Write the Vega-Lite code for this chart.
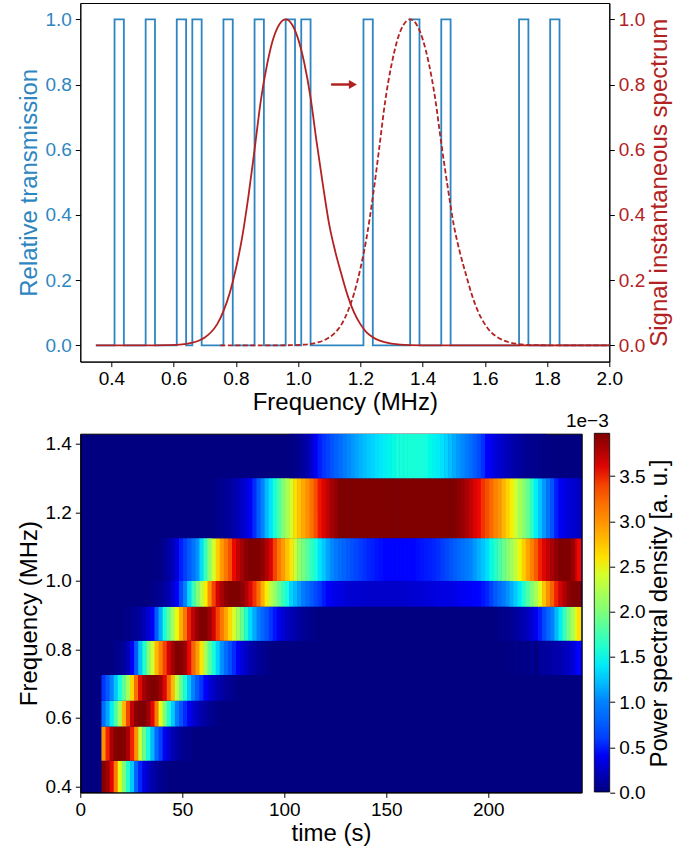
{"$schema":"https://vega.github.io/schema/vega-lite/v6.json","padding":{"left":16.3,"top":2,"right":5,"bottom":5},"background":"white","bounds":"flush","spacing":71.7,"config":{"font":"Liberation Sans","axis":{"labelFont":"Liberation Sans","titleFont":"Liberation Sans","labelFontSize":19,"titleFontSize":24,"titleFontWeight":"normal","grid":false,"tickColor":"#000","domainColor":"#000","tickSize":5,"labelColor":"#000","titleColor":"#000","labelPadding":4,"labelFlush":false},"view":{"stroke":"#000"}},"datasets":{"bands":[{"b":0,"f":0.3825,"f2":0.475},{"b":1,"f":0.475,"f2":0.575},{"b":2,"f":0.575,"f2":0.65},{"b":3,"f":0.65,"f2":0.725},{"b":4,"f":0.725,"f2":0.825},{"b":5,"f":0.825,"f2":0.925},{"b":6,"f":0.925,"f2":1.0},{"b":7,"f":1.0,"f2":1.125},{"b":8,"f":1.125,"f2":1.3},{"b":9,"f":1.3,"f2":1.43}]},"vconcat":[{"width":529,"height":358.6,"resolve":{"scale":{"y":"independent"},"axis":{"y":"independent"}},"layer":[{"data":{"values":[{"f":0.35,"v":0},{"f":0.41,"v":0},{"f":0.41,"v":1},{"f":0.44,"v":1},{"f":0.44,"v":0},{"f":0.51,"v":0},{"f":0.51,"v":1},{"f":0.54,"v":1},{"f":0.54,"v":0},{"f":0.61,"v":0},{"f":0.61,"v":1},{"f":0.64,"v":1},{"f":0.64,"v":0},{"f":0.66,"v":0},{"f":0.66,"v":1},{"f":0.69,"v":1},{"f":0.69,"v":0},{"f":0.76,"v":0},{"f":0.76,"v":1},{"f":0.79,"v":1},{"f":0.79,"v":0},{"f":0.86,"v":0},{"f":0.86,"v":1},{"f":0.89,"v":1},{"f":0.89,"v":0},{"f":0.96,"v":0},{"f":0.96,"v":1},{"f":0.99,"v":1},{"f":0.99,"v":0},{"f":1.01,"v":0},{"f":1.01,"v":1},{"f":1.04,"v":1},{"f":1.04,"v":0},{"f":1.21,"v":0},{"f":1.21,"v":1},{"f":1.24,"v":1},{"f":1.24,"v":0},{"f":1.36,"v":0},{"f":1.36,"v":1},{"f":1.39,"v":1},{"f":1.39,"v":0},{"f":1.46,"v":0},{"f":1.46,"v":1},{"f":1.49,"v":1},{"f":1.49,"v":0},{"f":1.71,"v":0},{"f":1.71,"v":1},{"f":1.74,"v":1},{"f":1.74,"v":0},{"f":1.81,"v":0},{"f":1.81,"v":1},{"f":1.84,"v":1},{"f":1.84,"v":0},{"f":2.0,"v":0}]},"mark":{"type":"line","color":"#2e86c1","strokeWidth":1.8,"strokeJoin":"miter"},"encoding":{"x":{"field":"f","type":"quantitative","scale":{"domain":[0.3,2.0],"nice":false,"zero":false},"axis":{"title":"Frequency (MHz)","values":[0.4,0.6,0.8,1.0,1.2,1.4,1.6,1.8,2.0],"format":".1f","labelPadding":3,"titlePadding":2}},"y":{"field":"v","type":"quantitative","scale":{"domain":[-0.05,1.05],"nice":false,"zero":false},"axis":{"orient":"left","title":"Relative transmission","values":[0,0.2,0.4,0.6,0.8,1.0],"format":".1f","labelColor":"#2e86c1","titleColor":"#2e86c1","titlePadding":3.6}}}},{"data":{"values":[{"f":0.75,"v":0},{"f":0.94,"v":0},{"f":0.98,"v":0.0005},{"f":1.02,"v":0.002},{"f":1.06,"v":0.008},{"f":1.08,"v":0.014},{"f":1.10,"v":0.024},{"f":1.12,"v":0.04},{"f":1.14,"v":0.065},{"f":1.16,"v":0.105},{"f":1.18,"v":0.16},{"f":1.20,"v":0.235},{"f":1.22,"v":0.33},{"f":1.24,"v":0.455},{"f":1.26,"v":0.60},{"f":1.28,"v":0.75},{"f":1.30,"v":0.86},{"f":1.32,"v":0.94},{"f":1.34,"v":0.985},{"f":1.36,"v":1},{"f":1.38,"v":0.985},{"f":1.40,"v":0.94},{"f":1.42,"v":0.865},{"f":1.44,"v":0.76},{"f":1.46,"v":0.62},{"f":1.48,"v":0.49},{"f":1.50,"v":0.37},{"f":1.52,"v":0.285},{"f":1.54,"v":0.215},{"f":1.56,"v":0.15},{"f":1.58,"v":0.10},{"f":1.60,"v":0.065},{"f":1.62,"v":0.04},{"f":1.64,"v":0.025},{"f":1.66,"v":0.015},{"f":1.70,"v":0.005},{"f":1.76,"v":0.0005},{"f":1.82,"v":0},{"f":2.0,"v":0}]},"mark":{"type":"line","color":"#b22222","strokeWidth":1.8,"strokeDash":[5,2.5],"interpolate":"monotone"},"encoding":{"x":{"field":"f","type":"quantitative"},"y":{"field":"v","type":"quantitative","scale":{"domain":[-0.05,1.05],"nice":false,"zero":false},"axis":null}}},{"data":{"values":[{"f":0.35,"v":0},{"f":0.54,"v":0},{"f":0.58,"v":0.0005},{"f":0.62,"v":0.002},{"f":0.66,"v":0.008},{"f":0.68,"v":0.014},{"f":0.70,"v":0.024},{"f":0.72,"v":0.04},{"f":0.74,"v":0.065},{"f":0.76,"v":0.105},{"f":0.78,"v":0.16},{"f":0.80,"v":0.235},{"f":0.82,"v":0.33},{"f":0.84,"v":0.455},{"f":0.86,"v":0.60},{"f":0.88,"v":0.75},{"f":0.90,"v":0.86},{"f":0.92,"v":0.94},{"f":0.94,"v":0.985},{"f":0.96,"v":1},{"f":0.98,"v":0.985},{"f":1.0,"v":0.94},{"f":1.02,"v":0.865},{"f":1.04,"v":0.76},{"f":1.06,"v":0.62},{"f":1.08,"v":0.49},{"f":1.10,"v":0.37},{"f":1.12,"v":0.285},{"f":1.14,"v":0.215},{"f":1.16,"v":0.15},{"f":1.18,"v":0.10},{"f":1.20,"v":0.065},{"f":1.22,"v":0.04},{"f":1.24,"v":0.025},{"f":1.26,"v":0.015},{"f":1.30,"v":0.005},{"f":1.36,"v":0.0005},{"f":1.42,"v":0},{"f":2.0,"v":0}]},"mark":{"type":"line","color":"#b22222","strokeWidth":1.8,"interpolate":"monotone"},"encoding":{"x":{"field":"f","type":"quantitative"},"y":{"field":"v","type":"quantitative","scale":{"domain":[-0.05,1.05],"nice":false,"zero":false},"axis":{"orient":"right","title":"Signal instantaneous spectrum","values":[0,0.2,0.4,0.6,0.8,1.0],"format":".1f","labelColor":"#b22222","titleColor":"#b22222","titleAngle":270,"titleBaseline":"top","titlePadding":2.6}}}},{"data":{"values":[{"f":1.106,"v":0.8},{"f":1.176,"v":0.8}]},"mark":{"type":"line","color":"#b22222","strokeWidth":2.5},"encoding":{"x":{"field":"f","type":"quantitative"},"y":{"field":"v","type":"quantitative","scale":{"domain":[-0.05,1.05],"nice":false,"zero":false},"axis":null}}},{"data":{"values":[{"f":1.176,"v":0.8}]},"mark":{"type":"point","shape":"triangle-right","filled":true,"opacity":1,"color":"#b22222","size":85},"encoding":{"x":{"field":"f","type":"quantitative"},"y":{"field":"v","type":"quantitative","scale":{"domain":[-0.05,1.05],"nice":false,"zero":false},"axis":null}}}]},{"width":501.4,"height":358.7,"view":{"fill":"#000080","stroke":"#000"},"title":{"text":"1e−3","anchor":"end","frame":"group","fontSize":19,"font":"Liberation Sans","fontWeight":"normal","color":"#000","dx":27,"offset":2},"resolve":{"scale":{"y":"independent"},"axis":{"y":"independent"}},"layer":[{"data":{"values":[
{"b":0,"t":11.5,"p":3.96},{"b":0,"t":13.5,"p":3.84},{"b":0,"t":15.5,"p":3.58},{"b":0,"t":17.5,"p":3.12},{"b":0,"t":19.5,"p":2.48},{"b":0,"t":21.5,"p":2.0},{"b":0,"t":23.5,"p":1.6},{"b":0,"t":25.5,"p":1.27},{"b":0,"t":27.5,"p":0.8},{"b":0,"t":29.5,"p":0.5},{"b":0,"t":31.5,"p":0.35},{"b":0,"t":33.5,"p":0.24},{"b":0,"t":35.5,"p":0.16},{"b":0,"t":37.5,"p":0.1},{"b":0,"t":39.5,"p":0.06},{"b":0,"t":41.5,"p":0.03},
{"b":1,"t":11.5,"p":3.0},{"b":1,"t":13.5,"p":3.5},{"b":1,"t":15.5,"p":3.8},{"b":1,"t":17.5,"p":3.95},{"b":1,"t":19.5,"p":4.0},{"b":1,"t":21.5,"p":3.95},{"b":1,"t":23.5,"p":3.8},{"b":1,"t":25.5,"p":3.5},{"b":1,"t":27.5,"p":3.0},{"b":1,"t":29.5,"p":2.35},{"b":1,"t":31.5,"p":1.9},{"b":1,"t":33.5,"p":1.5},{"b":1,"t":35.5,"p":1.2},{"b":1,"t":37.5,"p":0.85},{"b":1,"t":39.5,"p":0.6},{"b":1,"t":41.5,"p":0.4},{"b":1,"t":43.5,"p":0.27},{"b":1,"t":45.5,"p":0.18},{"b":1,"t":47.5,"p":0.12},{"b":1,"t":49.5,"p":0.08},{"b":1,"t":51.5,"p":0.05},{"b":1,"t":53.5,"p":0.03},
{"b":2,"t":11.5,"p":0.85},{"b":2,"t":13.5,"p":1.12},{"b":2,"t":15.5,"p":1.42},{"b":2,"t":17.5,"p":1.8},{"b":2,"t":19.5,"p":2.2},{"b":2,"t":21.5,"p":2.8},{"b":2,"t":23.5,"p":3.38},{"b":2,"t":25.5,"p":3.72},{"b":2,"t":27.5,"p":3.92},{"b":2,"t":29.5,"p":4},{"b":2,"t":31.5,"p":3.97},{"b":2,"t":33.5,"p":3.84},{"b":2,"t":35.5,"p":3.58},{"b":2,"t":37.5,"p":3.12},{"b":2,"t":39.5,"p":2.48},{"b":2,"t":41.5,"p":2.0},{"b":2,"t":43.5,"p":1.6},{"b":2,"t":45.5,"p":1.27},{"b":2,"t":47.5,"p":0.97},{"b":2,"t":49.5,"p":0.7},{"b":2,"t":51.5,"p":0.52},{"b":2,"t":53.5,"p":0.4},{"b":2,"t":55.5,"p":0.3},{"b":2,"t":57.5,"p":0.22},{"b":2,"t":59.5,"p":0.16},{"b":2,"t":61.5,"p":0.11},{"b":2,"t":63.5,"p":0.07},{"b":2,"t":65.5,"p":0.04},{"b":2,"t":67.5,"p":0.02},
{"b":3,"t":11.5,"p":0.55},{"b":3,"t":13.5,"p":0.74},{"b":3,"t":15.5,"p":1.0},{"b":3,"t":17.5,"p":1.25},{"b":3,"t":19.5,"p":1.5},{"b":3,"t":21.5,"p":1.85},{"b":3,"t":23.5,"p":2.2},{"b":3,"t":25.5,"p":2.65},{"b":3,"t":27.5,"p":3.2},{"b":3,"t":29.5,"p":3.58},{"b":3,"t":31.5,"p":3.82},{"b":3,"t":33.5,"p":3.93},{"b":3,"t":35.5,"p":4},{"b":3,"t":37.5,"p":3.95},{"b":3,"t":39.5,"p":3.85},{"b":3,"t":41.5,"p":3.6},{"b":3,"t":43.5,"p":3.25},{"b":3,"t":45.5,"p":2.8},{"b":3,"t":47.5,"p":2.3},{"b":3,"t":49.5,"p":1.9},{"b":3,"t":51.5,"p":1.55},{"b":3,"t":53.5,"p":1.25},{"b":3,"t":55.5,"p":1.0},{"b":3,"t":57.5,"p":0.75},{"b":3,"t":59.5,"p":0.55},{"b":3,"t":61.5,"p":0.42},{"b":3,"t":63.5,"p":0.32},{"b":3,"t":65.5,"p":0.24},{"b":3,"t":67.5,"p":0.18},{"b":3,"t":69.5,"p":0.13},{"b":3,"t":71.5,"p":0.09},{"b":3,"t":73.5,"p":0.06},{"b":3,"t":75.5,"p":0.04},{"b":3,"t":77.5,"p":0.02},
{"b":4,"t":15.5,"p":0.02},{"b":4,"t":17.5,"p":0.03},{"b":4,"t":19.5,"p":0.06},{"b":4,"t":21.5,"p":0.1},{"b":4,"t":23.5,"p":0.2},{"b":4,"t":25.5,"p":0.4},{"b":4,"t":27.5,"p":0.75},{"b":4,"t":29.5,"p":1.25},{"b":4,"t":31.5,"p":1.6},{"b":4,"t":33.5,"p":2.0},{"b":4,"t":35.5,"p":2.4},{"b":4,"t":37.5,"p":2.8},{"b":4,"t":39.5,"p":3.1},{"b":4,"t":41.5,"p":3.4},{"b":4,"t":43.5,"p":3.65},{"b":4,"t":45.5,"p":3.85},{"b":4,"t":47.5,"p":4},{"b":4,"t":49.5,"p":3.95},{"b":4,"t":51.5,"p":3.85},{"b":4,"t":53.5,"p":3.55},{"b":4,"t":55.5,"p":3.25},{"b":4,"t":57.5,"p":2.95},{"b":4,"t":59.5,"p":2.58},{"b":4,"t":61.5,"p":2.2},{"b":4,"t":63.5,"p":1.85},{"b":4,"t":65.5,"p":1.55},{"b":4,"t":67.5,"p":1.3},{"b":4,"t":69.5,"p":1.05},{"b":4,"t":71.5,"p":0.85},{"b":4,"t":73.5,"p":0.68},{"b":4,"t":75.5,"p":0.52},{"b":4,"t":77.5,"p":0.4},{"b":4,"t":79.5,"p":0.32},{"b":4,"t":81.5,"p":0.24},{"b":4,"t":83.5,"p":0.18},{"b":4,"t":85.5,"p":0.13},{"b":4,"t":87.5,"p":0.09},{"b":4,"t":89.5,"p":0.06},{"b":4,"t":91.5,"p":0.04},{"b":4,"t":93.5,"p":0.02},{"b":4,"t":209.5,"p":0.02},{"b":4,"t":213.5,"p":0.03},{"b":4,"t":217.5,"p":0.05},{"b":4,"t":221.5,"p":0.07},{"b":4,"t":225.5,"p":0.09},{"b":4,"t":227.5,"p":0.1},{"b":4,"t":229.5,"p":0.12},{"b":4,"t":231.5,"p":0.13},{"b":4,"t":233.5,"p":0.15},{"b":4,"t":235.5,"p":0.17},{"b":4,"t":237.5,"p":0.2},{"b":4,"t":239.5,"p":0.24},{"b":4,"t":241.5,"p":0.3},{"b":4,"t":243.5,"p":0.38},{"b":4,"t":244.5,"p":0.44},
{"b":5,"t":23.5,"p":0.03},{"b":5,"t":25.5,"p":0.05},{"b":5,"t":27.5,"p":0.08},{"b":5,"t":29.5,"p":0.12},{"b":5,"t":31.5,"p":0.2},{"b":5,"t":33.5,"p":0.3},{"b":5,"t":35.5,"p":0.42},{"b":5,"t":37.5,"p":0.75},{"b":5,"t":39.5,"p":1.15},{"b":5,"t":41.5,"p":1.55},{"b":5,"t":43.5,"p":1.85},{"b":5,"t":45.5,"p":2.2},{"b":5,"t":47.5,"p":2.5},{"b":5,"t":49.5,"p":2.85},{"b":5,"t":51.5,"p":3.15},{"b":5,"t":53.5,"p":3.5},{"b":5,"t":55.5,"p":3.72},{"b":5,"t":57.5,"p":3.88},{"b":5,"t":59.5,"p":4},{"b":5,"t":61.5,"p":4},{"b":5,"t":63.5,"p":3.85},{"b":5,"t":65.5,"p":3.65},{"b":5,"t":67.5,"p":3.4},{"b":5,"t":69.5,"p":3.15},{"b":5,"t":71.5,"p":2.9},{"b":5,"t":73.5,"p":2.65},{"b":5,"t":75.5,"p":2.4},{"b":5,"t":77.5,"p":2.15},{"b":5,"t":79.5,"p":1.9},{"b":5,"t":81.5,"p":1.6},{"b":5,"t":83.5,"p":1.35},{"b":5,"t":85.5,"p":1.15},{"b":5,"t":87.5,"p":0.98},{"b":5,"t":89.5,"p":0.82},{"b":5,"t":91.5,"p":0.7},{"b":5,"t":93.5,"p":0.56},{"b":5,"t":95.5,"p":0.46},{"b":5,"t":97.5,"p":0.37},{"b":5,"t":99.5,"p":0.3},{"b":5,"t":101.5,"p":0.24},{"b":5,"t":103.5,"p":0.19},{"b":5,"t":105.5,"p":0.15},{"b":5,"t":107.5,"p":0.11},{"b":5,"t":109.5,"p":0.08},{"b":5,"t":111.5,"p":0.06},{"b":5,"t":113.5,"p":0.04},{"b":5,"t":115.5,"p":0.02},{"b":5,"t":205.5,"p":0.03},{"b":5,"t":207.5,"p":0.04},{"b":5,"t":209.5,"p":0.05},{"b":5,"t":211.5,"p":0.07},{"b":5,"t":213.5,"p":0.1},{"b":5,"t":215.5,"p":0.14},{"b":5,"t":217.5,"p":0.18},{"b":5,"t":219.5,"p":0.23},{"b":5,"t":221.5,"p":0.3},{"b":5,"t":223.5,"p":0.38},{"b":5,"t":225.5,"p":0.48},{"b":5,"t":227.5,"p":0.65},{"b":5,"t":229.5,"p":0.82},{"b":5,"t":231.5,"p":1.0},{"b":5,"t":233.5,"p":1.2},{"b":5,"t":235.5,"p":1.42},{"b":5,"t":237.5,"p":1.7},{"b":5,"t":239.5,"p":1.95},{"b":5,"t":241.5,"p":2.2},{"b":5,"t":243.5,"p":2.45},{"b":5,"t":244.5,"p":2.6},
{"b":6,"t":35.5,"p":0.03},{"b":6,"t":37.5,"p":0.05},{"b":6,"t":39.5,"p":0.08},{"b":6,"t":41.5,"p":0.12},{"b":6,"t":43.5,"p":0.18},{"b":6,"t":45.5,"p":0.28},{"b":6,"t":47.5,"p":0.42},{"b":6,"t":49.5,"p":0.65},{"b":6,"t":51.5,"p":1.0},{"b":6,"t":53.5,"p":1.35},{"b":6,"t":55.5,"p":1.7},{"b":6,"t":57.5,"p":2.0},{"b":6,"t":59.5,"p":2.3},{"b":6,"t":61.5,"p":2.55},{"b":6,"t":63.5,"p":3.0},{"b":6,"t":65.5,"p":3.4},{"b":6,"t":67.5,"p":3.65},{"b":6,"t":69.5,"p":3.8},{"b":6,"t":71.5,"p":3.92},{"b":6,"t":73.5,"p":4},{"b":6,"t":75.5,"p":4},{"b":6,"t":77.5,"p":3.97},{"b":6,"t":79.5,"p":3.9},{"b":6,"t":81.5,"p":3.78},{"b":6,"t":83.5,"p":3.6},{"b":6,"t":85.5,"p":3.45},{"b":6,"t":87.5,"p":3.2},{"b":6,"t":89.5,"p":2.85},{"b":6,"t":91.5,"p":2.55},{"b":6,"t":93.5,"p":2.3},{"b":6,"t":95.5,"p":2.1},{"b":6,"t":97.5,"p":1.9},{"b":6,"t":99.5,"p":1.7},{"b":6,"t":101.5,"p":1.5},{"b":6,"t":103.5,"p":1.32},{"b":6,"t":105.5,"p":1.2},{"b":6,"t":107.5,"p":1.08},{"b":6,"t":109.5,"p":0.96},{"b":6,"t":111.5,"p":0.85},{"b":6,"t":113.5,"p":0.74},{"b":6,"t":115.5,"p":0.65},{"b":6,"t":117.5,"p":0.56},{"b":6,"t":119.5,"p":0.47},{"b":6,"t":121.5,"p":0.42},{"b":6,"t":123.5,"p":0.38},{"b":6,"t":125.5,"p":0.36},{"b":6,"t":127.5,"p":0.34},{"b":6,"t":129.5,"p":0.32},{"b":6,"t":131.5,"p":0.3},{"b":6,"t":133.5,"p":0.29},{"b":6,"t":135.5,"p":0.28},{"b":6,"t":137.5,"p":0.27},{"b":6,"t":139.5,"p":0.27},{"b":6,"t":141.5,"p":0.26},{"b":6,"t":143.5,"p":0.26},{"b":6,"t":145.5,"p":0.26},{"b":6,"t":147.5,"p":0.26},{"b":6,"t":149.5,"p":0.26},{"b":6,"t":151.5,"p":0.26},{"b":6,"t":153.5,"p":0.26},{"b":6,"t":155.5,"p":0.27},{"b":6,"t":157.5,"p":0.27},{"b":6,"t":159.5,"p":0.27},{"b":6,"t":161.5,"p":0.28},{"b":6,"t":163.5,"p":0.28},{"b":6,"t":165.5,"p":0.29},{"b":6,"t":167.5,"p":0.3},{"b":6,"t":169.5,"p":0.31},{"b":6,"t":171.5,"p":0.32},{"b":6,"t":173.5,"p":0.33},{"b":6,"t":175.5,"p":0.34},{"b":6,"t":177.5,"p":0.35},{"b":6,"t":179.5,"p":0.35},{"b":6,"t":181.5,"p":0.35},{"b":6,"t":183.5,"p":0.36},{"b":6,"t":185.5,"p":0.38},{"b":6,"t":187.5,"p":0.4},{"b":6,"t":189.5,"p":0.41},{"b":6,"t":191.5,"p":0.42},{"b":6,"t":193.5,"p":0.43},{"b":6,"t":195.5,"p":0.44},{"b":6,"t":197.5,"p":0.46},{"b":6,"t":199.5,"p":0.5},{"b":6,"t":201.5,"p":0.6},{"b":6,"t":203.5,"p":0.75},{"b":6,"t":205.5,"p":0.85},{"b":6,"t":207.5,"p":0.95},{"b":6,"t":209.5,"p":1.05},{"b":6,"t":211.5,"p":1.15},{"b":6,"t":213.5,"p":1.28},{"b":6,"t":215.5,"p":1.4},{"b":6,"t":217.5,"p":1.6},{"b":6,"t":219.5,"p":1.8},{"b":6,"t":221.5,"p":2.0},{"b":6,"t":223.5,"p":2.2},{"b":6,"t":225.5,"p":2.45},{"b":6,"t":227.5,"p":2.75},{"b":6,"t":229.5,"p":3.0},{"b":6,"t":231.5,"p":3.25},{"b":6,"t":233.5,"p":3.5},{"b":6,"t":235.5,"p":3.65},{"b":6,"t":237.5,"p":3.78},{"b":6,"t":239.5,"p":3.9},{"b":6,"t":241.5,"p":3.96},{"b":6,"t":243.5,"p":3.97},{"b":6,"t":244.5,"p":3.97},
{"b":7,"t":39.5,"p":0.03},{"b":7,"t":41.5,"p":0.07},{"b":7,"t":43.5,"p":0.13},{"b":7,"t":45.5,"p":0.2},{"b":7,"t":47.5,"p":0.33},{"b":7,"t":49.5,"p":0.48},{"b":7,"t":51.5,"p":0.6},{"b":7,"t":53.5,"p":0.75},{"b":7,"t":55.5,"p":0.9},{"b":7,"t":57.5,"p":1.05},{"b":7,"t":59.5,"p":1.35},{"b":7,"t":61.5,"p":1.7},{"b":7,"t":63.5,"p":2.05},{"b":7,"t":65.5,"p":2.4},{"b":7,"t":67.5,"p":2.7},{"b":7,"t":69.5,"p":2.95},{"b":7,"t":71.5,"p":3.15},{"b":7,"t":73.5,"p":3.35},{"b":7,"t":75.5,"p":3.55},{"b":7,"t":77.5,"p":3.7},{"b":7,"t":79.5,"p":3.82},{"b":7,"t":81.5,"p":3.92},{"b":7,"t":83.5,"p":3.97},{"b":7,"t":85.5,"p":4},{"b":7,"t":87.5,"p":3.97},{"b":7,"t":89.5,"p":3.9},{"b":7,"t":91.5,"p":3.78},{"b":7,"t":93.5,"p":3.62},{"b":7,"t":95.5,"p":3.4},{"b":7,"t":97.5,"p":3.15},{"b":7,"t":99.5,"p":2.95},{"b":7,"t":101.5,"p":2.75},{"b":7,"t":103.5,"p":2.58},{"b":7,"t":105.5,"p":2.35},{"b":7,"t":107.5,"p":2.1},{"b":7,"t":109.5,"p":1.95},{"b":7,"t":111.5,"p":1.82},{"b":7,"t":113.5,"p":1.68},{"b":7,"t":115.5,"p":1.52},{"b":7,"t":117.5,"p":1.38},{"b":7,"t":119.5,"p":1.25},{"b":7,"t":121.5,"p":1.12},{"b":7,"t":123.5,"p":1.02},{"b":7,"t":125.5,"p":0.94},{"b":7,"t":127.5,"p":0.86},{"b":7,"t":129.5,"p":0.8},{"b":7,"t":131.5,"p":0.74},{"b":7,"t":133.5,"p":0.68},{"b":7,"t":135.5,"p":0.63},{"b":7,"t":137.5,"p":0.58},{"b":7,"t":139.5,"p":0.54},{"b":7,"t":141.5,"p":0.5},{"b":7,"t":143.5,"p":0.48},{"b":7,"t":145.5,"p":0.46},{"b":7,"t":147.5,"p":0.45},{"b":7,"t":149.5,"p":0.44},{"b":7,"t":151.5,"p":0.44},{"b":7,"t":153.5,"p":0.44},{"b":7,"t":155.5,"p":0.44},{"b":7,"t":157.5,"p":0.44},{"b":7,"t":159.5,"p":0.44},{"b":7,"t":161.5,"p":0.44},{"b":7,"t":163.5,"p":0.44},{"b":7,"t":165.5,"p":0.45},{"b":7,"t":167.5,"p":0.46},{"b":7,"t":169.5,"p":0.47},{"b":7,"t":171.5,"p":0.48},{"b":7,"t":173.5,"p":0.5},{"b":7,"t":175.5,"p":0.53},{"b":7,"t":177.5,"p":0.58},{"b":7,"t":179.5,"p":0.64},{"b":7,"t":181.5,"p":0.7},{"b":7,"t":183.5,"p":0.76},{"b":7,"t":185.5,"p":0.82},{"b":7,"t":187.5,"p":0.88},{"b":7,"t":189.5,"p":0.94},{"b":7,"t":191.5,"p":1.0},{"b":7,"t":193.5,"p":1.08},{"b":7,"t":195.5,"p":1.16},{"b":7,"t":197.5,"p":1.25},{"b":7,"t":199.5,"p":1.35},{"b":7,"t":201.5,"p":1.48},{"b":7,"t":203.5,"p":1.62},{"b":7,"t":205.5,"p":1.76},{"b":7,"t":207.5,"p":1.9},{"b":7,"t":209.5,"p":2.02},{"b":7,"t":211.5,"p":2.16},{"b":7,"t":213.5,"p":2.32},{"b":7,"t":215.5,"p":2.5},{"b":7,"t":217.5,"p":2.7},{"b":7,"t":219.5,"p":2.9},{"b":7,"t":221.5,"p":3.1},{"b":7,"t":223.5,"p":3.3},{"b":7,"t":225.5,"p":3.5},{"b":7,"t":227.5,"p":3.6},{"b":7,"t":229.5,"p":3.7},{"b":7,"t":231.5,"p":3.8},{"b":7,"t":233.5,"p":3.9},{"b":7,"t":235.5,"p":3.97},{"b":7,"t":237.5,"p":4},{"b":7,"t":239.5,"p":3.97},{"b":7,"t":241.5,"p":3.88},{"b":7,"t":243.5,"p":3.7},{"b":7,"t":244.5,"p":3.55},
{"b":8,"t":65.5,"p":0.02},{"b":8,"t":67.5,"p":0.04},{"b":8,"t":69.5,"p":0.06},{"b":8,"t":71.5,"p":0.08},{"b":8,"t":73.5,"p":0.11},{"b":8,"t":75.5,"p":0.15},{"b":8,"t":77.5,"p":0.2},{"b":8,"t":79.5,"p":0.26},{"b":8,"t":81.5,"p":0.32},{"b":8,"t":83.5,"p":0.4},{"b":8,"t":85.5,"p":0.52},{"b":8,"t":87.5,"p":0.75},{"b":8,"t":89.5,"p":1.0},{"b":8,"t":91.5,"p":1.2},{"b":8,"t":93.5,"p":1.38},{"b":8,"t":95.5,"p":1.56},{"b":8,"t":97.5,"p":1.78},{"b":8,"t":99.5,"p":2.0},{"b":8,"t":101.5,"p":2.2},{"b":8,"t":103.5,"p":2.4},{"b":8,"t":105.5,"p":2.62},{"b":8,"t":107.5,"p":2.75},{"b":8,"t":109.5,"p":2.88},{"b":8,"t":111.5,"p":3.0},{"b":8,"t":113.5,"p":3.18},{"b":8,"t":115.5,"p":3.35},{"b":8,"t":117.5,"p":3.52},{"b":8,"t":119.5,"p":3.62},{"b":8,"t":121.5,"p":3.72},{"b":8,"t":123.5,"p":3.82},{"b":8,"t":125.5,"p":3.9},{"b":8,"t":127.5,"p":3.97},{"b":8,"t":129.5,"p":4},{"b":8,"t":131.5,"p":4},{"b":8,"t":133.5,"p":4},{"b":8,"t":135.5,"p":4},{"b":8,"t":137.5,"p":4},{"b":8,"t":139.5,"p":4},{"b":8,"t":141.5,"p":4},{"b":8,"t":143.5,"p":4},{"b":8,"t":145.5,"p":4},{"b":8,"t":147.5,"p":4},{"b":8,"t":149.5,"p":4},{"b":8,"t":151.5,"p":4},{"b":8,"t":153.5,"p":4},{"b":8,"t":155.5,"p":4},{"b":8,"t":157.5,"p":4},{"b":8,"t":159.5,"p":4},{"b":8,"t":161.5,"p":4},{"b":8,"t":163.5,"p":4},{"b":8,"t":165.5,"p":4},{"b":8,"t":167.5,"p":4},{"b":8,"t":169.5,"p":4},{"b":8,"t":171.5,"p":4},{"b":8,"t":173.5,"p":4},{"b":8,"t":175.5,"p":4},{"b":8,"t":177.5,"p":4},{"b":8,"t":179.5,"p":4},{"b":8,"t":181.5,"p":4},{"b":8,"t":183.5,"p":3.96},{"b":8,"t":185.5,"p":3.92},{"b":8,"t":187.5,"p":3.87},{"b":8,"t":189.5,"p":3.8},{"b":8,"t":191.5,"p":3.72},{"b":8,"t":193.5,"p":3.63},{"b":8,"t":195.5,"p":3.54},{"b":8,"t":197.5,"p":3.45},{"b":8,"t":199.5,"p":3.35},{"b":8,"t":201.5,"p":3.22},{"b":8,"t":203.5,"p":3.08},{"b":8,"t":205.5,"p":2.98},{"b":8,"t":207.5,"p":2.82},{"b":8,"t":209.5,"p":2.68},{"b":8,"t":211.5,"p":2.55},{"b":8,"t":213.5,"p":2.38},{"b":8,"t":215.5,"p":2.2},{"b":8,"t":217.5,"p":2.05},{"b":8,"t":219.5,"p":1.9},{"b":8,"t":221.5,"p":1.65},{"b":8,"t":223.5,"p":1.42},{"b":8,"t":225.5,"p":1.25},{"b":8,"t":227.5,"p":1.08},{"b":8,"t":229.5,"p":0.9},{"b":8,"t":231.5,"p":0.7},{"b":8,"t":233.5,"p":0.48},{"b":8,"t":235.5,"p":0.4},{"b":8,"t":237.5,"p":0.35},{"b":8,"t":239.5,"p":0.31},{"b":8,"t":241.5,"p":0.28},{"b":8,"t":243.5,"p":0.25},{"b":8,"t":244.5,"p":0.24},
{"b":9,"t":103.5,"p":0.02},{"b":9,"t":105.5,"p":0.04},{"b":9,"t":107.5,"p":0.07},{"b":9,"t":109.5,"p":0.11},{"b":9,"t":111.5,"p":0.17},{"b":9,"t":113.5,"p":0.27},{"b":9,"t":115.5,"p":0.4},{"b":9,"t":117.5,"p":0.48},{"b":9,"t":119.5,"p":0.55},{"b":9,"t":121.5,"p":0.62},{"b":9,"t":123.5,"p":0.7},{"b":9,"t":125.5,"p":0.78},{"b":9,"t":127.5,"p":0.86},{"b":9,"t":129.5,"p":0.95},{"b":9,"t":131.5,"p":1.02},{"b":9,"t":133.5,"p":1.07},{"b":9,"t":135.5,"p":1.12},{"b":9,"t":137.5,"p":1.17},{"b":9,"t":139.5,"p":1.22},{"b":9,"t":141.5,"p":1.27},{"b":9,"t":143.5,"p":1.32},{"b":9,"t":145.5,"p":1.36},{"b":9,"t":147.5,"p":1.39},{"b":9,"t":149.5,"p":1.42},{"b":9,"t":151.5,"p":1.45},{"b":9,"t":153.5,"p":1.48},{"b":9,"t":155.5,"p":1.5},{"b":9,"t":157.5,"p":1.52},{"b":9,"t":159.5,"p":1.54},{"b":9,"t":161.5,"p":1.55},{"b":9,"t":163.5,"p":1.55},{"b":9,"t":165.5,"p":1.54},{"b":9,"t":167.5,"p":1.52},{"b":9,"t":169.5,"p":1.5},{"b":9,"t":171.5,"p":1.47},{"b":9,"t":173.5,"p":1.44},{"b":9,"t":175.5,"p":1.41},{"b":9,"t":177.5,"p":1.38},{"b":9,"t":179.5,"p":1.3},{"b":9,"t":181.5,"p":1.22},{"b":9,"t":183.5,"p":1.14},{"b":9,"t":185.5,"p":1.07},{"b":9,"t":187.5,"p":1.02},{"b":9,"t":189.5,"p":0.96},{"b":9,"t":191.5,"p":0.86},{"b":9,"t":193.5,"p":0.76},{"b":9,"t":195.5,"p":0.66},{"b":9,"t":197.5,"p":0.54},{"b":9,"t":199.5,"p":0.43},{"b":9,"t":201.5,"p":0.38},{"b":9,"t":203.5,"p":0.33},{"b":9,"t":205.5,"p":0.29},{"b":9,"t":207.5,"p":0.25},{"b":9,"t":209.5,"p":0.21},{"b":9,"t":211.5,"p":0.17},{"b":9,"t":213.5,"p":0.14},{"b":9,"t":215.5,"p":0.11},{"b":9,"t":217.5,"p":0.08},{"b":9,"t":219.5,"p":0.06},{"b":9,"t":221.5,"p":0.05},{"b":9,"t":223.5,"p":0.04},{"b":9,"t":225.5,"p":0.03},{"b":9,"t":227.5,"p":0.02}
]},"transform":[{"lookup":"b","from":{"data":{"name":"bands"},"key":"b","fields":["f","f2"]}}],"mark":{"type":"rect","width":4.6,"clip":true},"encoding":{"x":{"field":"t","type":"quantitative","scale":{"domain":[0,245.8],"nice":false,"zero":false},"axis":{"title":"time (s)","values":[0,50,100,150,200],"labelPadding":3,"titlePadding":2}},"y":{"field":"f","type":"quantitative","scale":{"domain":[0.3825,1.43],"nice":false,"zero":false},"axis":{"orient":"left","title":"Frequency (MHz)","values":[0.4,0.6,0.8,1.0,1.2,1.4],"format":".1f","titlePadding":3.6}},"y2":{"field":"f2"},"color":{"field":"p","type":"quantitative","scale":{"domain":[0,0.437,0.9925,1.35,1.489,1.985,2.48,2.58,2.98,3.53,3.97],"range":["#000080","#0000ff","#0080ff","#00dcfe","#16ffe1","#7cff7a","#e4ff13","#ffe600","#ff9400","#f10800","#800000"],"clamp":true},"legend":{"orient":"none","legendX":514,"legendY":430.3,"title":null,"gradientLength":358.7,"gradientThickness":15.4,"gradientStrokeColor":"#000","gradientStrokeWidth":0.8,"labelOpacity":0,"labelFontSize":1,"tickCount":40}}}},{"data":{"values":[{"p":0},{"p":3.97}]},"mark":{"type":"tick","opacity":0},"encoding":{"y":{"field":"p","type":"quantitative","scale":{"domain":[0,3.97],"nice":false,"zero":false},"axis":{"orient":"right","offset":28,"domain":false,"title":"Power spectral density [a. u.]","values":[0,0.5,1,1.5,2,2.5,3,3.5],"format":".1f","titleAngle":270,"titleBaseline":"top","titlePadding":2.6}}}}]}]}
